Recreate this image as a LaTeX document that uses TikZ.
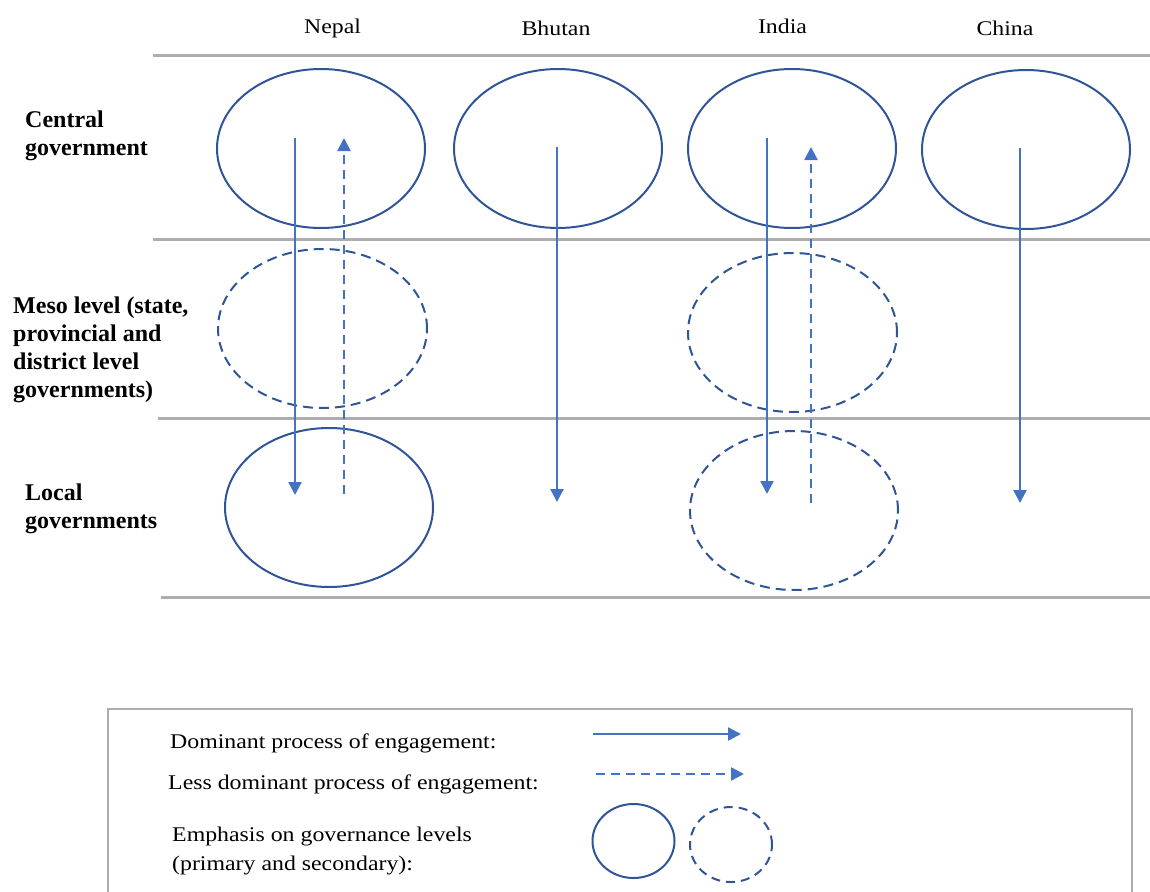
\documentclass[tikz,border=0pt]{standalone}
\usepackage{fontspec}
\setmainfont{Liberation Serif}
\newfontfamily\labelfont[FakeStretch=1.14]{Liberation Serif}
\usetikzlibrary{shapes.geometric,arrows.meta}

\definecolor{ringblue}{HTML}{2F5597}
\definecolor{flowblue}{HTML}{4472C4}
\definecolor{rulegrey}{HTML}{AEAEAE}

\begin{document}
\begin{tikzpicture}[x=1pt,y=-1pt,
  level/.style={ellipse, draw=ringblue, line width=2pt, inner sep=0pt,
                minimum width=208pt, minimum height=159pt},
  primary/.style={level},
  secondary/.style={level, dash pattern=on 10pt off 6pt},
  flow/.style={draw=flowblue, line width=2.4pt,
               -{Triangle[length=13pt,width=13pt]}},
  dominant/.style={flow},
  lesser/.style={flow, dash pattern=on 9pt off 6pt},
  rowrule/.style={draw=rulegrey, line width=3pt},
  head/.style={anchor=base, inner sep=0pt,
               font=\labelfont\fontsize{20.9}{29}\selectfont},
  rowlabel/.style={anchor=base west, inner sep=0pt, align=left,
                   font=\bfseries\fontsize{24}{28}\selectfont},
  legtext/.style={anchor=base west, inner sep=0pt, align=left,
                  font=\labelfont\fontsize{20.9}{29}\selectfont}
]
\useasboundingbox (0,0) rectangle (1150,891);
\clip (0,0) rectangle (1150,891);

% row separators
\draw[rowrule] (153,56) -- (1150,56);
\draw[rowrule] (153,239) -- (1150,239);
\draw[rowrule] (158,418) -- (1150,418);
\draw[rowrule] (161,597) -- (1150,597);

% column headings
\node[head] (hNepal)  at (332.5,34) {Nepal};
\node[head] (hBhutan) at (556,36)   {Bhutan};
\node[head] (hIndia)  at (782.5,34) {India};
\node[head] (hChina)  at (1005,36)  {China};

% row headings (anchored on the baseline of their last line)
\node[rowlabel] (lCentral) at (25,155) {Central\\government};
\node[rowlabel] (lMeso)    at (13,397) {Meso level (state,\\provincial and\\district level\\governments)};
\node[rowlabel] (lLocal)   at (25,528) {Local\\governments};

% governance levels
\node[primary]   (nepC) at (321,148.5) {};
\node[primary]   (bhuC) at (558,148.5) {};
\node[primary]   (indC) at (792,148.5) {};
\node[primary]   (chiC) at (1026,149.5) {};
\node[secondary, minimum width=209pt] (nepM) at (322.5,328.5) {};
\node[primary]   (nepL) at (329,507.5) {};
\node[secondary, minimum width=209pt] (indM) at (792.5,332.5) {};
\node[secondary] (indL) at (794,510.5) {};

% flow end points
\coordinate (nepDownA) at (295,138);
\coordinate (nepDownB) at (295,495);
\coordinate (nepUpA)   at (344,494);
\coordinate (nepUpB)   at (344,138);
\coordinate (bhuDownA) at (557,147);
\coordinate (bhuDownB) at (557,502);
\coordinate (indDownA) at (767,138);
\coordinate (indDownB) at (767,494);
\coordinate (indUpA)   at (811,503);
\coordinate (indUpB)   at (811,147);
\coordinate (chiDownA) at (1020,148);
\coordinate (chiDownB) at (1020,503);

% processes of engagement
\draw[dominant] (nepDownA) -- (nepDownB);
\draw[lesser]   (nepUpA) -- (nepUpB);
\draw[dominant] (bhuDownA) -- (bhuDownB);
\draw[dominant] (indDownA) -- (indDownB);
\draw[lesser]   (indUpA) -- (indUpB);
\draw[dominant] (chiDownA) -- (chiDownB);

% legend
\draw[draw=rulegrey, line width=2pt] (108,709) rectangle (1132,960);
\node[legtext] (kDom)    at (170,748) {Dominant process of engagement:};
\node[legtext] (kLess)   at (168,789) {Less dominant process of engagement:};
\node[legtext] (kLevels) at (172,870) {Emphasis on governance levels\\(primary and secondary):};
\coordinate (keyDomA)  at (593,734);
\coordinate (keyDomB)  at (741,734);
\coordinate (keyLessA) at (596,774);
\coordinate (keyLessB) at (744,774);
\draw[dominant] (keyDomA) -- (keyDomB);
\draw[lesser]   (keyLessA) -- (keyLessB);
\node[primary, minimum width=82pt, minimum height=74pt] (keyP) at (633.5,841) {};
\node[secondary, minimum width=82pt, minimum height=75pt,
      dash pattern=on 9pt off 6pt] (keyS) at (731,844.5) {};
\end{tikzpicture}
\end{document}
